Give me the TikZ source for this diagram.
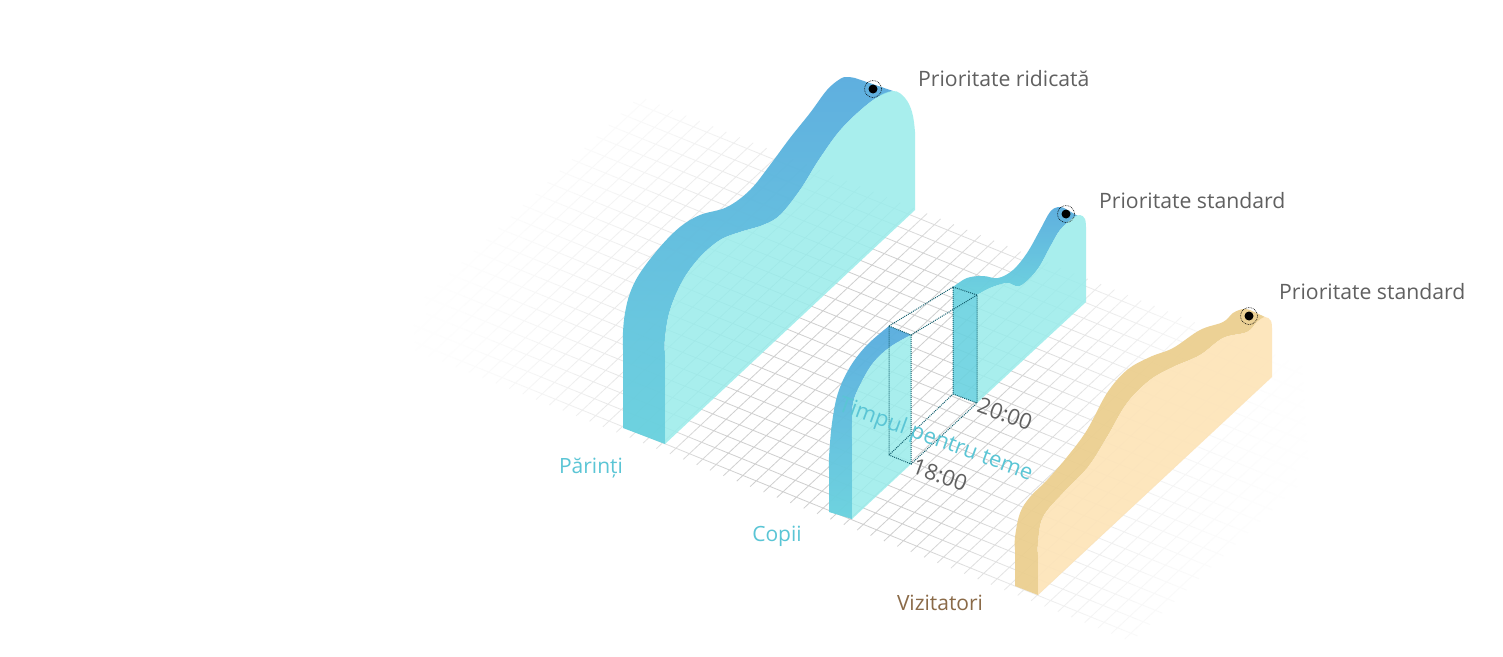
\documentclass[tikz,border=0pt]{standalone}
\usepackage{fontspec}
\setmainfont{Open Sans}
\definecolor{gridgray}{HTML}{CFCFCF}
\definecolor{faceblue}{HTML}{99ECEB}
\definecolor{bandlow}{HTML}{6AD2DE}
\definecolor{bandhigh}{HTML}{5AADDE}
\definecolor{cutteal}{HTML}{6AD2E0}
\definecolor{faceyellow}{HTML}{FDE4B8}
\definecolor{bandyellow}{HTML}{EBCE8D}
\definecolor{dotteal}{HTML}{14606F}
\definecolor{textgray}{HTML}{606060}
\definecolor{textcyan}{HTML}{5AC5D5}
\definecolor{textbrown}{HTML}{8A6A48}
\tikzstyle{face}=[fill=faceblue, fill opacity=0.85]
\tikzstyle{band}=[top color=bandhigh, bottom color=bandlow, fill opacity=0.97]
\tikzstyle{faceb}=[fill=faceyellow, fill opacity=0.92]
\tikzstyle{bandb}=[fill=bandyellow, fill opacity=0.92]
\tikzstyle{cuboid}=[draw=dotteal, densely dotted, line width=1pt]
\tikzstyle{prio}=[anchor=west, inner sep=0pt, text=textgray, font=\fontsize{21.2}{25}\selectfont]
\tikzstyle{grp}=[inner sep=0pt, font=\fontsize{21}{25}\selectfont]
\tikzstyle{slant}=[inner sep=0pt, rotate=-20, font=\fontsize{22}{26}\selectfont]
\tikzstyle{marker}=[circle, fill=black, minimum size=9pt, inner sep=0pt]
\tikzstyle{halo}=[circle, draw=black, densely dotted, line width=0.7pt, minimum size=17pt, inner sep=0pt]

\begin{document}
\begin{tikzpicture}[x=1pt, y=-1pt]
\path[use as bounding box, fill=white] (0,0) rectangle (1503,656);

\foreach \i in {0,...,55}
    \foreach \j in {0,...,20} {
        \pgfmathsetmacro{\gx}{395+13.38*\i+12.25*\j}
        \pgfmathsetmacro{\gy}{334+5.44*\i-11.45*\j}
        \pgfmathsetmacro{\fd}{max(0,1-veclen(\gx-860,\gy-400)/480)}
        \pgfmathsetmacro{\shadeval}{min(100,200*\fd*\fd)}
        \draw[draw=gridgray!\shadeval!white, line width=0.8pt]
            (\gx-6.69,\gy-2.72) -- (\gx+6.69,\gy+2.72)
            (\gx-6.125,\gy+5.725) -- (\gx+6.125,\gy-5.725);
    }

\shade[band] (623,428) -- plot[smooth, tension=0.6] coordinates {(623,350) (623,332) (625,313) (630,293) (640,273) (660,247) (680,227) (700,215) (727,207) (750,190) (770,165) (790,138) (810,113) (827,90) (840,79) (847,77) (855,78)}
    -- plot[smooth, tension=0.6] coordinates {(893,91) (873,100) (843,127) (820,158) (800,190) (780,215) (763,225) (740,232) (720,240) (700,257) (683,280) (670,310) (665,338) (665,355)} -- (665,444) -- cycle;
\fill[face] (665,444) -- plot[smooth, tension=0.6] coordinates {(665,355) (665,338) (670,310) (683,280) (700,257) (720,240) (740,232) (763,225) (780,215) (800,190) (820,158) (843,127) (873,100) (893,91) (905,98) (912,112) (915,132) (915,150)} -- (915,210) -- cycle;

\shade[band] (829,512) -- plot[smooth, tension=0.6] coordinates {(829,470) (829,457) (832,423) (838,393) (850,367) (867,345) (889,326)}
    -- plot[smooth, tension=0.6] coordinates {(911,335) (890,347) (873,363) (860,385) (853,403) (852,423) (852,440)} -- (852,519) -- cycle;
\fill[face] (852,519) -- plot[smooth, tension=0.6] coordinates {(852,440) (852,423) (853,403) (860,385) (873,363) (890,347) (911,335)} -- (911,464) -- cycle;

\shade[band] (953,287) -- plot[smooth, tension=0.6] coordinates {(953,287) (967,278) (983,276) (998,278) (1013,270) (1027,253) (1040,230) (1050,212) (1058,207) (1064,208)}
    -- plot[smooth, tension=0.6] coordinates {(1078,216) (1073,218) (1060,230) (1050,247) (1037,270) (1020,286) (1007,283) (990,288) (977,295)} -- cycle;
\fill[face] (977,403) -- (977,295) -- plot[smooth, tension=0.6] coordinates {(977,295) (990,288) (1007,283) (1020,286) (1037,270) (1050,247) (1060,230) (1073,218) (1080,215) (1085,219) (1086,228)} -- (1086,302) -- cycle;
\fill[cutteal, fill opacity=0.9] (953,287) -- (977,295) -- (977,403) -- (953,394) -- cycle;

\fill[bandb] (1015,586) -- plot[smooth, tension=0.6] coordinates {(1015,550) (1015,537) (1020,513) (1030,497) (1047,480) (1067,457) (1087,430) (1107,393) (1127,370) (1150,357) (1173,348) (1200,330) (1223,322) (1233,313) (1243,309) (1250,310)}
    -- plot[smooth, tension=0.6] coordinates {(1265,317) (1257,322) (1247,332) (1223,338) (1200,355) (1173,367) (1150,380) (1127,403) (1107,437) (1088,467) (1063,493) (1043,517) (1038,543) (1038,555)} -- (1038,595) -- cycle;
\fill[faceb] (1038,595) -- plot[smooth, tension=0.6] coordinates {(1038,555) (1038,543) (1043,517) (1063,493) (1088,467) (1107,437) (1127,403) (1150,380) (1173,367) (1200,355) (1223,338) (1247,332) (1257,322) (1265,317) (1271,321) (1272,330)} -- (1272,377) -- cycle;

\coordinate (p1) at (889,326);
\coordinate (p2) at (911,335);
\coordinate (p3) at (911,464);
\coordinate (p4) at (889,455);
\coordinate (q1) at (953,287);
\coordinate (q2) at (977,295);
\coordinate (q3) at (977,403);
\coordinate (q4) at (953,394);
\draw[cuboid] (p1) -- (p2) -- (p3) -- (p4) -- cycle;
\draw[cuboid] (q1) -- (q2) -- (q3) -- (q4) -- cycle;
\draw[cuboid] (p1) -- (q1);
\draw[cuboid] (p2) -- (q2);
\draw[cuboid] (p3) -- (q3);
\draw[cuboid] (p4) -- (q4);

\node[halo] (ringa) at (873,89) {};
\node[marker] (dota) at (873,89) {};
\node[halo] (ringb) at (1066,214) {};
\node[marker] (dotb) at (1066,214) {};
\node[halo] (ringc) at (1249,316) {};
\node[marker] (dotc) at (1249,316) {};

\node[prio] (hi) at (918,79) {Prioritate ridicată};
\node[prio] (stda) at (1099,201) {Prioritate standard};
\node[prio] (stdb) at (1279,292) {Prioritate standard};
\node[grp, text=textcyan] (par) at (591,468) {Părinți};
\node[grp, text=textcyan] (cop) at (777,536) {Copii};
\node[grp, text=textbrown] (viz) at (940,603) {Vizitatori};
\node[slant, text=textgray] (tb) at (1005,414) {20:00};
\node[slant, text=textgray] (ta) at (940,475) {18:00};
\node[slant, text=textcyan] (tm) at (935.5,440) {Timpul pentru teme};
\end{tikzpicture}
\end{document}
